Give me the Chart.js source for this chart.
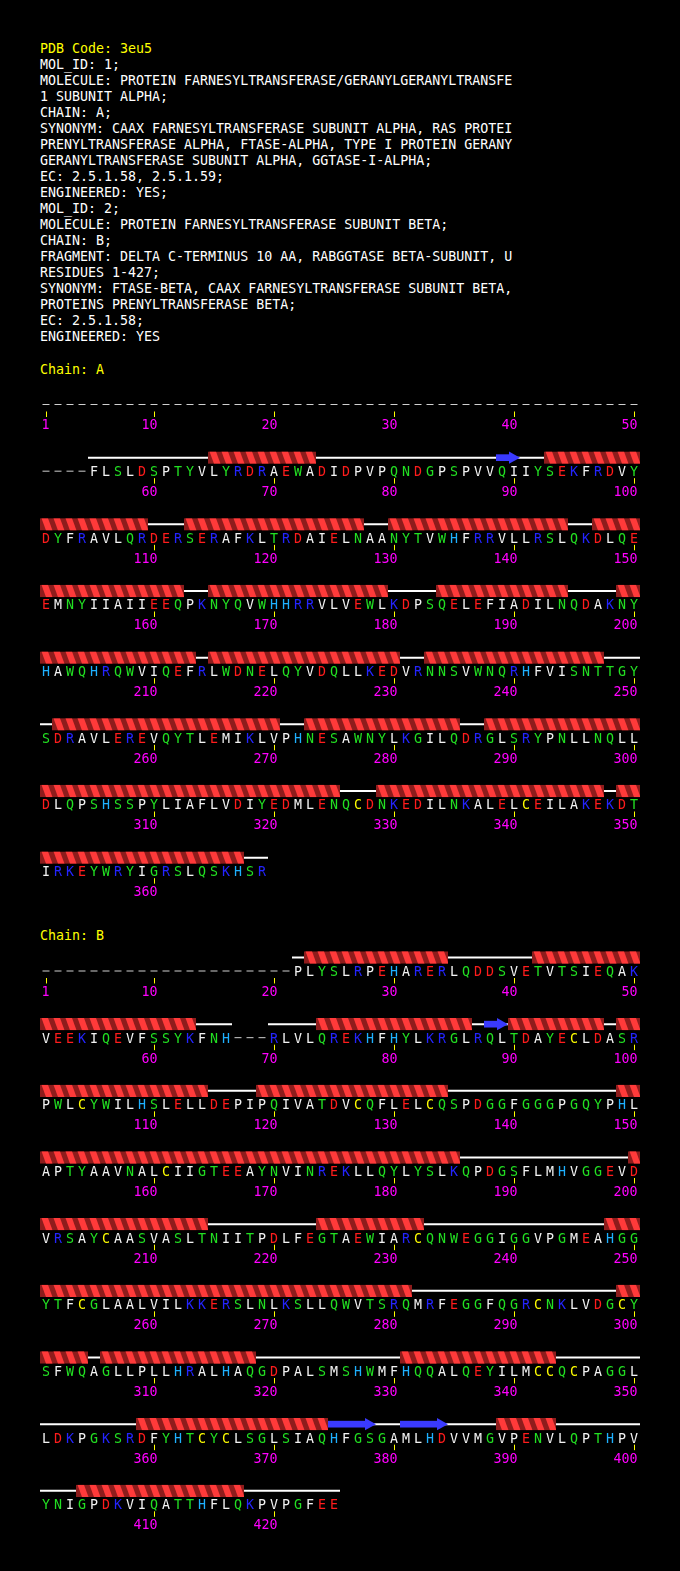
<!DOCTYPE html>
<html>
<head>
<meta charset="utf-8">
<title>3eu5 sequence</title>
<script src="https://cdn.jsdelivr.net/npm/chart.js@4.4.1/dist/chart.umd.min.js"></script>
<style>
  html, body { margin: 0; padding: 0; background: #000; }
  body { width: 680px; height: 1571px; position: relative; overflow: hidden;
         font: 13.3px "DejaVu Sans Mono", monospace; color: #fff; }
  #header { position: absolute; left: 40px; top: 40.75px; margin: 0;
            font: inherit; line-height: 16px; white-space: pre; }
  .yel { color: #ffff00; }
  .chainLabel { position: absolute; left: 40px; line-height: 16px; color: #ffff00; white-space: pre; }
  canvas { position: absolute; left: 0; }
</style>
</head>
<body>
<pre id="header"><span class="yel">PDB Code: 3eu5</span>
MOL_ID: 1;
MOLECULE: PROTEIN FARNESYLTRANSFERASE/GERANYLGERANYLTRANSFE
1 SUBUNIT ALPHA;
CHAIN: A;
SYNONYM: CAAX FARNESYLTRANSFERASE SUBUNIT ALPHA, RAS PROTEI
PRENYLTRANSFERASE ALPHA, FTASE-ALPHA, TYPE I PROTEIN GERANY
GERANYLTRANSFERASE SUBUNIT ALPHA, GGTASE-I-ALPHA;
EC: 2.5.1.58, 2.5.1.59;
ENGINEERED: YES;
MOL_ID: 2;
MOLECULE: PROTEIN FARNESYLTRANSFERASE SUBUNIT BETA;
CHAIN: B;
FRAGMENT: DELTA C-TERMINUS 10 AA, RABGGTASE BETA-SUBUNIT, U
RESIDUES 1-427;
SYNONYM: FTASE-BETA, CAAX FARNESYLTRANSFERASE SUBUNIT BETA,
PROTEINS PRENYLTRANSFERASE BETA;
EC: 2.5.1.58;
ENGINEERED: YES</pre>

<div class="chainLabel" style="top:361.75px">Chain: A</div>
<canvas id="chainA" width="680" height="520" style="top:380px"></canvas>
<div class="chainLabel" style="top:928.25px">Chain: B</div>
<canvas id="chainB" width="680" height="600" style="top:945px"></canvas>

<script>
// sequences, 50 residues per row, '-' = residue not in the model
const seqA = [
  "--------------------------------------------------",
  "----FLSLDSPTYVLYRDRAEWADIDPVPQNDGPSPVVQIIYSEKFRDVY",
  "DYFRAVLQRDERSERAFKLTRDAIELNAANYTVWHFRRVLLRSLQKDLQE",
  "EMNYIIAIIEEQPKNYQVWHHRRVLVEWLKDPSQELEFIADILNQDAKNY",
  "HAWQHRQWVIQEFRLWDNELQYVDQLLKEDVRNNSVWNQRHFVISNTTGY",
  "SDRAVLEREVQYTLEMIKLVPHNESAWNYLKGILQDRGLSRYPNLLNQLL",
  "DLQPSHSSPYLIAFLVDIYEDMLENQCDNKEDILNKALELCEILAKEKDT",
  "IRKEYWRYIGRSLQSKHSR"
].join("");

const seqB = [
  "---------------------PLYSLRPEHARERLQDDSVETVTSIEQAK",
  "VEEKIQEVFSSYKFNH---RLVLQREKHFHYLKRGLRQLTDAYECLDASR",
  "PWLCYWILHSLELLDEPIPQIVATDVCQFLELCQSPDGGFGGGPGQYPHL",
  "APTYAAVNALCIIGTEEAYNVINREKLLQYLYSLKQPDGSFLMHVGGEVD",
  "VRSAYCAASVASLTNIITPDLFEGTAEWIARCQNWEGGIGGVPGMEAHGG",
  "YTFCGLAALVILKKERSLNLKSLLQWVTSRQMRFEGGFQGRCNKLVDGCY",
  "SFWQAGLLPLLHRALHAQGDPALSMSHWMFHQQALQEYILMCCQCPAGGL",
  "LDKPGKSRDFYHTCYCLSGLSIAQHFGSGAMLHDVVMGVPENVLQPTHPV",
  "YNIGPDKVIQATTHFLQKPVPGFEE"
].join("");

// secondary structure, [first residue, last residue]
const helixA = [[65,73],[93,109],[113,127],[130,144],[147,162],[165,179],[184,194],
                [199,213],[215,230],[233,247],[252,270],[273,285],[288,325],[329,347],[349,367]];
const strandA = [[89,90]];

const helixB = [[23,34],[42,63],[74,86],[90,97],[99,114],[119,134],[149,185],[200,214],
                [224,232],[248,281],[299,304],[306,318],[331,343],[359,374],[389,393],[404,417]];
const strandB = [[88,89],[375,378],[381,384]];

const PER_ROW = 50;
const ROW_PX = 200 / 3;           // vertical distance between rows
const SS_OFFSET = -13.5 / ROW_PX;  // ribbon sits above the letters
const CAP_HALF = 4.85;
const FONT = '13.3px "DejaVu Sans Mono", monospace';

const RED = '#ff1c1c', BLUE = '#2424ff', GREEN = '#22e022', CYAN = '#1eb0ff', YELLOW = '#ffff00';
const AA_COLOUR = { D: RED, E: RED, K: BLUE, R: BLUE, H: CYAN, C: YELLOW,
                    S: GREEN, T: GREEN, N: GREEN, Q: GREEN, G: GREEN, Y: GREEN, W: GREEN };

function colour(aa) { return AA_COLOUR[aa] || '#f2f2f2'; }

// split a residue range into per row pieces
function rowSpans(s, e) {
  const out = [];
  let n = s;
  while (n <= e) {
    const r = Math.floor((n - 1) / PER_ROW);
    const rowEnd = Math.min(e, (r + 1) * PER_ROW);
    out.push([r, (n - 1) % PER_ROW, (rowEnd - 1) % PER_ROW]);
    n = rowEnd + 1;
  }
  return out;
}

function drawHelix(ctx, x0, x1, yc, unit) {
  const top = yc - 6.2, bot = yc + 6.2;
  ctx.save();
  ctx.beginPath();
  ctx.rect(x0, top, x1 - x0, bot - top);
  ctx.clip();
  ctx.fillStyle = '#8e1c1c';
  ctx.fillRect(x0, top, x1 - x0, bot - top);
  ctx.fillStyle = '#ff3a3a';
  for (let x = x0; x < x1 - 1; x += unit) {
    ctx.beginPath();
    ctx.moveTo(x + 1.5, top);
    ctx.lineTo(x + 8, top);
    ctx.lineTo(x + 12.5, bot);
    ctx.lineTo(x + 6, bot);
    ctx.closePath();
    ctx.fill();
  }
  ctx.restore();
}

function drawArrow(ctx, x0, x1, yc) {
  const head = 11;
  ctx.fillStyle = '#3a3aff';
  ctx.fillRect(x0, yc - 3.35, x1 - head - x0, 6.7);
  ctx.beginPath();
  ctx.moveTo(x1 - head, yc - 6.2);
  ctx.lineTo(x1, yc);
  ctx.lineTo(x1 - head, yc + 6.2);
  ctx.closePath();
  ctx.fill();
}

function sequencePlugin(helices, strands, len) {
  return {
    id: 'sequence',
    afterDatasetsDraw(chart) {
      const ctx = chart.ctx;
      const xs = chart.scales.x, ys = chart.scales.y;
      const unit = xs.getPixelForValue(1) - xs.getPixelForValue(0);
      ctx.save();

      helices.forEach(([s, e]) => rowSpans(s, e).forEach(([r, c0, c1]) => {
        drawHelix(ctx, xs.getPixelForValue(c0 - 0.5), xs.getPixelForValue(c1 + 0.5),
                  ys.getPixelForValue(r + SS_OFFSET), unit);
      }));
      strands.forEach(([s, e]) => rowSpans(s, e).forEach(([r, c0, c1]) => {
        drawArrow(ctx, xs.getPixelForValue(c0 - 0.5), xs.getPixelForValue(c1 + 0.5),
                  ys.getPixelForValue(r + SS_OFFSET));
      }));

      // one letter per residue
      ctx.font = FONT;
      ctx.textAlign = 'center';
      ctx.textBaseline = 'alphabetic';
      const meta = chart.getDatasetMeta(1);
      const pts = chart.data.datasets[1].data;
      meta.data.forEach((el, i) => {
        const aa = pts[i].aa;
        if (aa === '-') {
          ctx.fillStyle = '#d0d0d0';
          ctx.fillRect(el.x - 3.5, el.y - 0.5, 7, 1);
        } else {
          ctx.fillStyle = colour(aa);
          ctx.fillText(aa, el.x, el.y + CAP_HALF);
        }
      });

      // numbering
      ctx.textAlign = 'right';
      for (let n = 1; n <= len; n++) {
        if (n !== 1 && n % 10 !== 0) continue;
        const x = xs.getPixelForValue((n - 1) % PER_ROW);
        const y = ys.getPixelForValue(Math.floor((n - 1) / PER_ROW));
        ctx.fillStyle = YELLOW;
        ctx.fillRect(Math.floor(x), y + 7, 1, 5.5);
        ctx.fillStyle = '#ff00ff';
        ctx.fillText(String(n), x + 3.5, y + 20 + CAP_HALF);
      }
      ctx.restore();
    }
  };
}

function buildChain(canvasId, seq, helices, strands, firstRowPx) {
  const canvas = document.getElementById(canvasId);
  const yMin = -firstRowPx / ROW_PX;
  const yMax = yMin + canvas.height / ROW_PX;
  const rows = Math.ceil(seq.length / PER_ROW);

  const residues = [];
  for (let i = 0; i < seq.length; i++) {
    residues.push({ x: i % PER_ROW, y: Math.floor(i / PER_ROW), aa: seq[i] });
  }

  // white coil line under every observed stretch
  const coil = [];
  for (let r = 0; r < rows; r++) {
    const rowSeq = seq.slice(r * PER_ROW, (r + 1) * PER_ROW);
    let c = 0;
    while (c < rowSeq.length) {
      if (rowSeq[c] === '-') { c++; continue; }
      let e = c;
      while (e + 1 < rowSeq.length && rowSeq[e + 1] !== '-') e++;
      coil.push({ x: c - 0.5, y: r + SS_OFFSET }, { x: e + 0.5, y: r + SS_OFFSET }, { x: e + 0.5, y: null });
      c = e + 1;
    }
  }

  new Chart(canvas, {
    type: 'scatter',
    data: {
      datasets: [
        { type: 'line', label: 'coil', data: coil, borderColor: '#ffffff', borderWidth: 2,
          pointRadius: 0, spanGaps: false, fill: false, tension: 0 },
        { label: 'residues', data: residues, pointRadius: 0, pointHoverRadius: 0, showLine: false }
      ]
    },
    options: {
      responsive: false,
      animation: false,
      events: [],
      layout: { autoPadding: false, padding: { left: 40, right: 40, top: 0, bottom: 0 } },
      scales: {
        x: { type: 'linear', min: -0.5, max: PER_ROW - 0.5, display: false },
        y: { type: 'linear', min: yMin, max: yMax, reverse: true, display: false }
      },
      plugins: { legend: { display: false }, tooltip: { enabled: false } }
    },
    plugins: [sequencePlugin(helices, strands, seq.length)]
  });
}

buildChain('chainA', seqA, helixA, strandA, 24.5);
buildChain('chainB', seqB, helixB, strandB, 26);
</script>
</body>
</html>
